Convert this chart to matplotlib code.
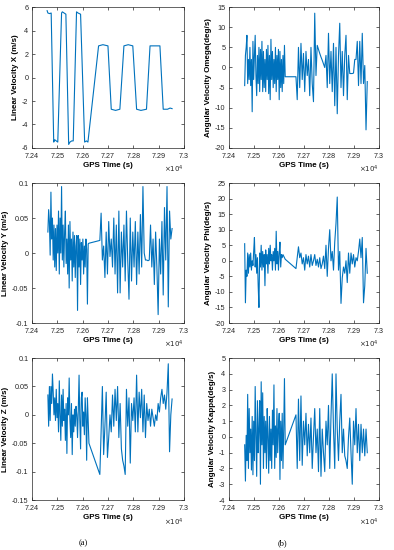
import matplotlib
matplotlib.use('Agg')
import matplotlib.pyplot as plt
import numpy as np

# GPS time stamps (s) shared by the noisy series
gps_time = [
    72463, 72466, 72469, 72472, 72475, 72478, 72481, 72484, 72487, 72490,
    72493, 72496, 72499, 72502, 72505, 72508, 72511, 72514, 72517, 72520,
    72523, 72526, 72529, 72532, 72535, 72538, 72541, 72544, 72547, 72550,
    72553, 72556, 72559, 72562, 72565, 72568, 72571, 72574, 72577, 72580,
    72583, 72586, 72589, 72592, 72595, 72598, 72601, 72604, 72607, 72610,
    72613, 72616, 72619, 72622, 72625,
    72668, 72673, 72678, 72683, 72688, 72693, 72698, 72703, 72708, 72713,
    72718, 72723, 72728, 72733, 72738, 72743, 72748, 72753, 72758, 72763,
    72768, 72773, 72778, 72783, 72788, 72793, 72798, 72803, 72808, 72813,
    72818, 72823, 72828, 72833, 72838, 72843, 72848, 72853, 72858, 72863,
    72868, 72873, 72878, 72883, 72888, 72893, 72898, 72903, 72908, 72913,
    72918, 72923, 72928, 72933, 72938, 72943, 72948, 72953]

# linear velocity X has its own (step like) vertices
vx_time = [72460, 72463, 72470, 72476, 72486, 72490, 72496, 72502, 72517, 72520,
           72527, 72534, 72545, 72550, 72557, 72563, 72576, 72582, 72592, 72608,
           72615, 72621, 72663, 72680, 72700, 72713, 72730, 72747, 72763, 72780,
           72798, 72813, 72830, 72852, 72866, 72885, 72905, 72918, 72935, 72945,
           72953]
vel_x = [5.7, 5.5, 5.45, 5.5, -5.5, -5.3, -5.4, -5.5, 5.5, 5.6,
         5.5, 5.4, -5.7, -5.5, -5.4, -5.4, 5.6, 5.5, 5.4, -5.5,
         -5.4, -5.5, 2.7, 2.8, 2.7, -2.7, -2.8, -2.7, 2.7, 2.8,
         2.7, -2.7, -2.8, -2.7, 2.7, 2.7, 2.7, -2.7, -2.7, -2.6,
         -2.65]

vel_y = [0.03, 0.062, 0.045, -0.003, 0.087, 0.02, 0.05, -0.01, 0.04, -0.02,
         0.035, -0.025, 0.04, 0.0, 0.06, -0.03, 0.05, 0.0, 0.095, -0.01,
         0.04, -0.02, 0.03, 0.06, -0.015, 0.02, -0.03, 0.04, -0.05, 0.045,
         -0.01, 0.02, -0.04, 0.03, -0.02, 0.025, -0.035, 0.01, 0.025, -0.082,
         0.025, -0.02, 0.02, -0.045, 0.015, -0.01, 0.02, -0.03, 0.01, -0.02,
         0.02, 0.005, -0.073, 0.013, 0.014,
         0.018, 0.057, -0.01, 0.01, -0.035, 0.03, -0.03, 0.045, -0.005, 0.02,
         -0.02, 0.05, -0.03, 0.04, -0.057, 0.06, -0.057, 0.03, -0.02, 0.04,
         -0.04, 0.06, -0.01, -0.066, 0.05, -0.04, 0.03, -0.02, 0.045, -0.045,
         0.03, -0.03, 0.055, -0.02, 0.095, 0.0, -0.01, -0.01, -0.011, -0.01,
         0.04, -0.02, 0.02, -0.045, 0.03, -0.02, -0.088, 0.02, -0.03, 0.045,
         -0.06, 0.065, -0.01, 0.095, -0.077, 0.06, 0.02, 0.035]

vel_z = [0.035, -0.02, 0.05, -0.01, 0.05, 0.02, 0.072, 0.04, 0.0, 0.03,
         -0.01, 0.045, -0.005, 0.02, -0.03, 0.06, 0.0, -0.045, 0.035, -0.02,
         0.045, -0.01, 0.01, -0.045, 0.02, -0.068, 0.03, 0.0, 0.065, -0.01,
         -0.04, 0.02, -0.07, 0.0, -0.03, 0.01, -0.02, 0.015, 0.0, -0.04,
         0.01, 0.07, -0.01, -0.06, 0.03, 0.04, -0.02, 0.005, -0.035, 0.03,
         0.0, -0.08, 0.03, -0.01, -0.05,
         -0.105, -0.03, 0.05, -0.07, -0.02, 0.04, -0.075, -0.04, 0.0, -0.03,
         0.035, -0.02, 0.045, -0.01, 0.05, -0.04, 0.02, -0.06, -0.08, -0.09,
         -0.105, 0.045, -0.02, 0.03, -0.085, 0.02, -0.01, 0.03, -0.03, 0.07,
         -0.03, 0.04, -0.005, 0.045, -0.03, 0.035, -0.04, 0.02, -0.01, 0.01,
         -0.02, 0.01, -0.005, -0.02, 0.0, -0.01, 0.02, 0.005, 0.03, 0.045,
         0.02, 0.035, 0.01, 0.04, 0.09, -0.065, 0.0, 0.028]

omega = [-4.5, 3, 5, 8, -4, 2, -3, 5, -4.5, 2,
         -11, 6.5, -3, 3, 8, -2, -7, 3, -4, 5,
         -6, 4.5, -3, 6.5, -6, 4, -5, 2, -6, 4.5,
         -3, 5.5, -6.5, 3, -8, 7, -3, 4, -5, 2,
         -4, 5, -6, 3, -3, 4.5, -8, 4, -5, 2,
         -6, 3, -4, 5.5, -2.3,
         -2.3, -8, 5, -5, 6, -3, 3.5, -6, 4, -2,
         2, -7, 5, -4, -8.5, 13.5, -2, 5.5, 4.5, 3.5,
         2.6, 1.8, 0.9, 0, 3, -5, 8.5, -4, 4, -6,
         6, -9.5, 5, -11.5, 3, 11, -5, 4, -7, 3,
         8, -8, 3, -1.5, -1.5, -1.5, -1.4, 2, 2, 6.5,
         -4.5, 6.5, -4, 8.5, -4, 0.5, -15.5, -3.5]

phi = [5.5, -13.5, -3, -5, 2.5, -4, 2, -2, 2.5, -3,
       0, -1.5, 3, 7.5, -2, 2, -4, 1, -8, -15,
       2.5, -2, 5, -3, 3, -2, 2, -8, 3.5, -1,
       2, -4, 4, -1, 5, 0, 2, -3, 3, 0,
       4, -3, 9.5, -1, 3, -3, 2.5, 6, -2, 2,
       1, 2, 1.5, 1, 0.5,
       -2.5, 1, 4.5, 1, 2.5, -1, 1, -3, 2, -1,
       1.5, -2, 2, -1.5, 0, 2, -1.5, 0.5, -2, 1,
       -2.5, -1, 1.5, -2.5, 5, -5, 4, 10, 0, 3,
       -3, 6, 12, 20.5, -3, 3, -13.7, -5.5, -2, -4,
       0, -7, 2.5, -4, 2.5, -1, 2, -2, 1, 0,
       3, 7, 1, 7.5, -13.5, -8, 4, -4]

kappa = [-0.5, -2.8, 0.1, -1.5, 2.7, -2, 1.8, -1, 0.5, -2.1,
         1.3, -2.4, 1, -1.5, 3.2, 0, -2.5, 2.3, -1, 0.5,
         2.3, -3, 3.5, -0.5, 2.8, -2, 1.3, -1, 1, -2,
         1.8, 0, -2.3, 1.3, -1.5, 0.5, -2, 1.7, -0.5, 3.3,
         -2, 0.7, -1.3, 1.8, -1, 0.5, 1.5, -2.7, 1, -1.5,
         1.5, -2, 0.5, 3.7, -0.5,
         1.4, -2, 2.4, -1.5, 2.6, -1.8, 1, -0.5, 1.5, -1.2,
         0.8, -1, 1.2, -2, 0, 1.8, -1, 0.5, -2.2, 1.8,
         -2.5, 0.5, -1, -2.2, 1, -0.5, 2, -2, 1.3, 4,
         0.5, -2, 4, 0.5, -1.5, 1, 2.7, -1, 0.5, -1.2,
         -1.5, -2, 0, 1.2, -1, -3, 1, -0.5, 1.8, -1,
         0.8, -1.5, 0.8, -1, 0.5, -1.2, 0.5, -1]

x_ticks = [72400, 72500, 72600, 72700, 72800, 72900, 73000]
x_tick_labels = ['7.24', '7.25', '7.26', '7.27', '7.28', '7.29', '7.3']

line_color = '#0072BD'
axis_color = '#262626'

plt.rcParams['font.family'] = 'Liberation Sans'

fig = plt.figure(figsize=(3.94, 5.5), dpi=100)

panels = [
    # (position, x data, y data, y label, y ticks, y tick labels)
    ([0.081, 0.731, 0.386, 0.256], vx_time, vel_x, 'Linear Velocity X (m/s)',
     [-6, -4, -2, 0, 2, 4, 6], ['-6', '-4', '-2', '0', '2', '4', '6']),
    ([0.581, 0.731, 0.381, 0.256], gps_time, omega, 'Angular Velocity Omega(deg/s)',
     [-20, -15, -10, -5, 0, 5, 10, 15], ['-20', '-15', '-10', '-5', '0', '5', '10', '15']),
    ([0.081, 0.4127, 0.386, 0.2545], gps_time, vel_y, 'Linear Velocity Y (m/s)',
     [-0.1, -0.05, 0, 0.05, 0.1], ['-0.1', '-0.05', '0', '0.05', '0.1']),
    ([0.581, 0.4127, 0.381, 0.2545], gps_time, phi, 'Angular Velocity Phi(deg/s)',
     [-20, -15, -10, -5, 0, 5, 10, 15, 20, 25],
     ['-20', '-15', '-10', '-5', '0', '5', '10', '15', '20', '25']),
    ([0.081, 0.0909, 0.386, 0.258], gps_time, vel_z, 'Linear Velocity Z (m/s)',
     [-0.15, -0.1, -0.05, 0, 0.05, 0.1], ['-0.15', '-0.1', '-0.05', '0', '0.05', '0.1']),
    ([0.581, 0.0909, 0.381, 0.258], gps_time, kappa, 'Angular Velocity Kappa(deg/s)',
     [-4, -3, -2, -1, 0, 1, 2, 3, 4, 5], ['-4', '-3', '-2', '-1', '0', '1', '2', '3', '4', '5']),
]

for pos, xs, ys, ylab, yt, ytl in panels:
    ax = fig.add_axes(pos)
    ax.plot(xs, ys, color=line_color, linewidth=0.8)
    ax.set_xlim(x_ticks[0], x_ticks[-1])
    ax.set_ylim(yt[0], yt[-1])
    ax.set_xticks(x_ticks)
    ax.set_xticklabels(x_tick_labels)
    ax.set_yticks(yt)
    ax.set_yticklabels(ytl)
    # matlab look: ticks inside, grey frame
    ax.tick_params(direction='in', length=2.5, width=0.5, labelsize=5.2,
                   colors=axis_color, top=True, right=True)
    ax.tick_params(axis='x', pad=3.5)
    ax.tick_params(axis='y', pad=2.5)
    for sp in ax.spines.values():
        sp.set_linewidth(0.5)
        sp.set_color(axis_color)
    ax.set_xlabel('GPS Time (s)', fontsize=5.8, fontweight='bold', labelpad=1.5)
    ax.set_ylabel(ylab, fontsize=5.8, fontweight='bold', labelpad=2)
    ax.text(1.0, -0.115, r'$\times 10^{4}$', transform=ax.transAxes,
            ha='right', va='top', fontsize=5, color=axis_color)

fig.text(0.212, 0.005, '(a)', ha='center', va='bottom', fontsize=6,
         family='Liberation Serif')
fig.text(0.716, 0.005, '(b)', ha='center', va='bottom', fontsize=6,
         family='Liberation Serif')

fig.savefig('out.png', dpi=100)
